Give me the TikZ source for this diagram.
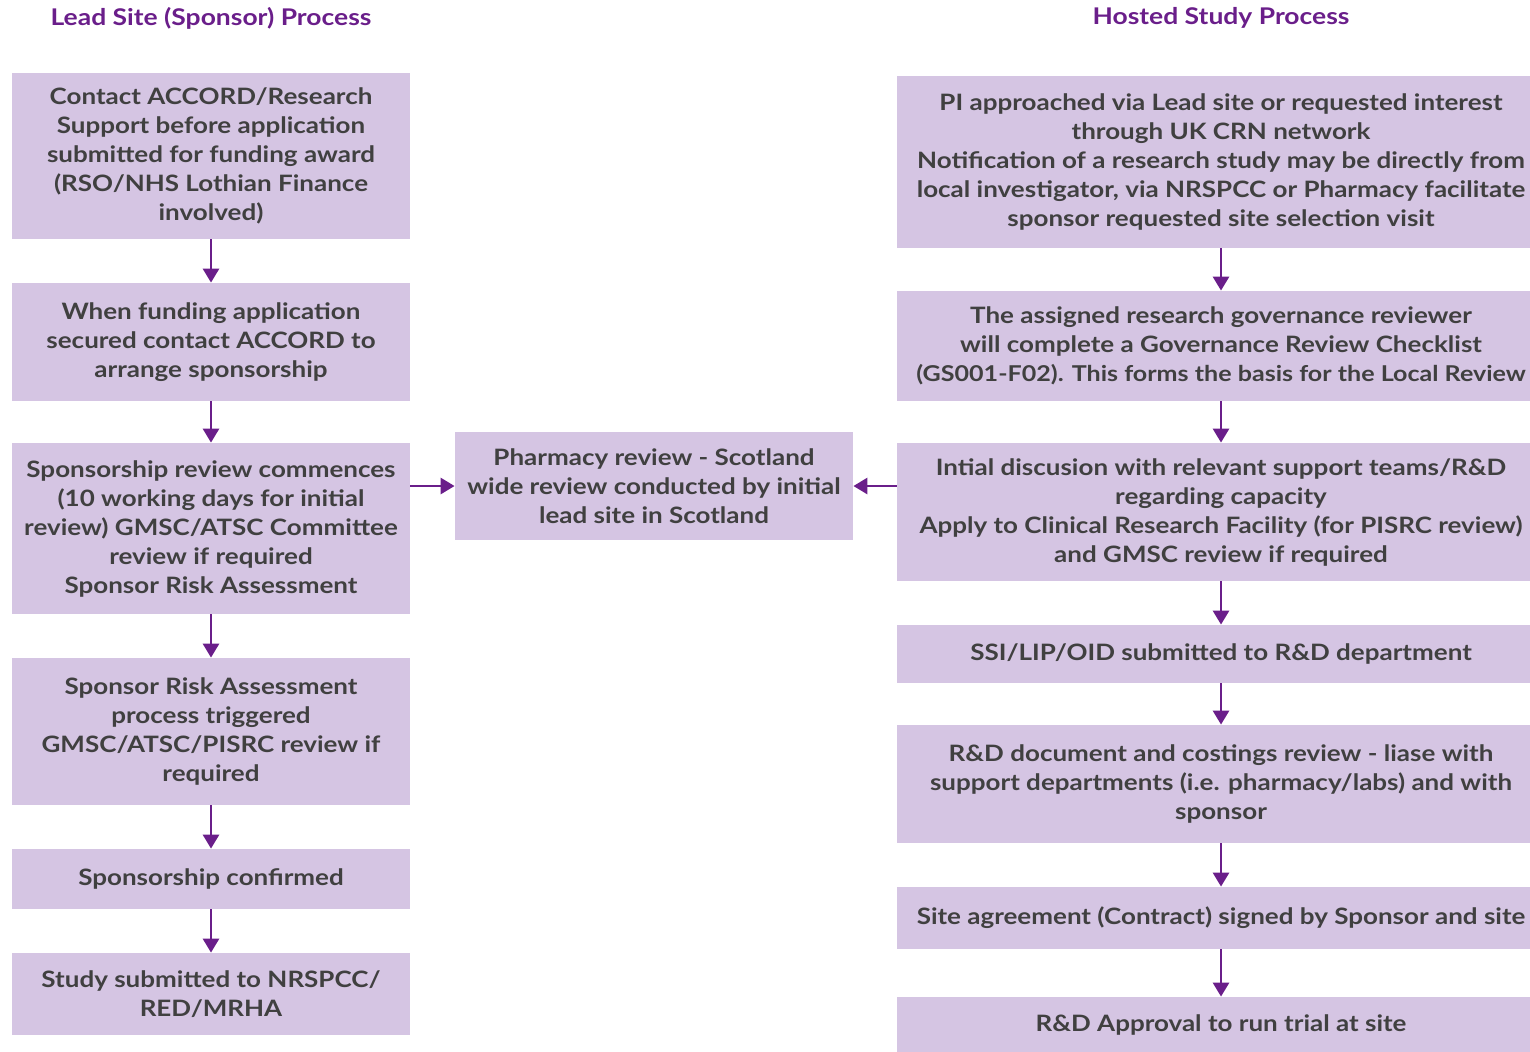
\documentclass[tikz,border=0pt]{standalone}
\usepackage{fontspec}
\setmainfont{Lato}[FakeStretch=1.15]
\usepackage{tikz}
\usetikzlibrary{arrows.meta,positioning}
\definecolor{kasten}{RGB}{213,197,227}
\definecolor{lila}{RGB}{106,30,138}
\definecolor{schrift}{RGB}{64,64,64}

\begin{document}
\begin{tikzpicture}[x=0.5pt,y=-0.5pt,
  box/.style={fill=kasten,draw=none,align=center,text=schrift,font=\bfseries\fontsize{11.3}{14.5}\selectfont,inner sep=0pt},
  links/.style={box,minimum width=199pt},
  rechts/.style={box,minimum width=324pt},
  pfeil/.style={draw=lila,line width=1.4pt,-{Triangle[length=7pt,width=8pt]}},
  titel/.style={text=lila,font=\bfseries\fontsize{11.5}{14}\selectfont}]
\useasboundingbox (0,0) rectangle (1530,1051);
%Ueberschriften
\node[titel] (tL) at (211,18) {Lead Site (Sponsor) Process};
\node[titel] (tR) at (1221,18) {Hosted Study Process};
%linke Spalte (Sponsor)
\node[links,minimum height=83pt] (L1) at (211,156) {Contact ACCORD/Research\\Support before application\\submitted for funding award\\(RSO/NHS Lothian Finance\\involved)};
\node[links,minimum height=59pt] (L2) at (211,342) {When funding application\\secured contact ACCORD to\\arrange sponsorship};
\node[links,minimum height=85.5pt] (L3) at (211,528.5) {Sponsorship review commences\\(10 working days for initial\\review) GMSC/ATSC Committee\\review if required\\Sponsor Risk Assessment};
\node[links,minimum height=73.5pt] (L4) at (211,731.5) {Sponsor Risk Assessment\\process triggered\\GMSC/ATSC/PISRC review if\\required};
\node[links,minimum height=30pt] (L5) at (211,879) {Sponsorship confirmed};
\node[links,minimum height=41pt] (L6) at (211,994) {Study submitted to NRSPCC/\\RED/MRHA};
%Mitte
\node[links,minimum height=54pt] (M) at (654,486) {Pharmacy review - Scotland\\wide review conducted by initial\\lead site in Scotland};
%rechte Spalte (Hosted)
\node[rechts,minimum height=86pt] (R1) at (1221,162) {PI approached via Lead site or requested interest\\through UK CRN network\\Notification of a research study may be directly from\\local investigator, via NRSPCC or Pharmacy facilitate\\sponsor requested site selection visit};
\node[rechts,minimum height=55pt] (R2) at (1221,346) {The assigned research governance reviewer\\will complete a Governance Review Checklist\\{\fontsize{10.9}{14.5}\selectfont(GS001-F02). This forms the basis for the Local Review}};
\node[rechts,minimum height=69pt] (R3) at (1221,512) {Intial discusion with relevant support teams/R\&D\\regarding capacity\\Apply to Clinical Research Facility (for PISRC review)\\and GMSC review if required};
\node[rechts,minimum height=29pt] (R4) at (1221,654) {SSI/LIP/OID submitted to R\&D department};
\node[rechts,minimum height=59pt] (R5) at (1221,784) {R\&D document and costings review - liase with\\support departments (i.e. pharmacy/labs) and with\\sponsor};
\node[rechts,minimum height=31pt] (R6) at (1221,918) {Site agreement (Contract) signed by Sponsor and site};
\node[rechts,minimum height=28pt] (R7) at (1221,1025) {R\&D Approval to run trial at site};
%Pfeile
\foreach \a/\b in {L1/L2,L2/L3,L3/L4,L4/L5,L5/L6,R1/R2,R2/R3,R3/R4,R4/R5,R5/R6,R6/R7}{
  \draw[pfeil] (\a.south) -- (\b.north);
}
\draw[pfeil] (L3.east |- M.west) -- (M.west);
\draw[pfeil] (R3.west |- M.east) -- (M.east);
\end{tikzpicture}
\end{document}
